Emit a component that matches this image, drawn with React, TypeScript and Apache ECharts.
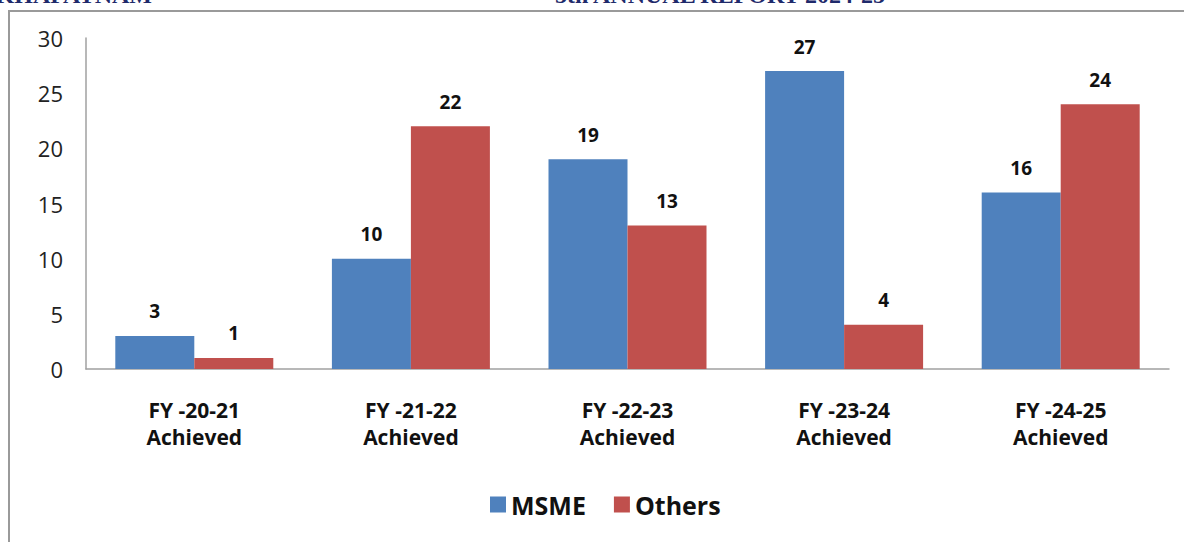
import React, { useEffect, useRef } from "react";
import * as echarts from "echarts";

const categories = [
  "FY -20-21\nAchieved",
  "FY -21-22\nAchieved",
  "FY -22-23\nAchieved",
  "FY -23-24\nAchieved",
  "FY -24-25\nAchieved",
];
const msme = [3, 10, 19, 27, 16];
const others = [1, 22, 13, 4, 24];
const seriesNames = ["MSME", "Others"];
const headerLeft = "VISAKHAPATNAM";
const headerRight = "5th ANNUAL REPORT 2024-25";

export default function App() {
  const ref = useRef<HTMLDivElement>(null);
  useEffect(() => {
    if (!ref.current) return;
    const chart = echarts.init(ref.current, null, { renderer: "svg" });
    const font = "'Open Sans', 'Noto Sans', sans-serif";
    const labelStyle = {
      show: true,
      position: "top",
      distance: 15,
      fontSize: 19,
      fontWeight: "bold",
      color: "#111",
      fontFamily: font,
    };
    chart.setOption({
      animation: false,
      backgroundColor: "#ffffff",
      textStyle: { fontFamily: font },
      graphic: [
        {
          type: "line",
          shape: { x1: 8, y1: 11, x2: 1184, y2: 11 },
          style: { stroke: "#9a9a9a", lineWidth: 2 },
          z: 10,
        },
        {
          type: "line",
          shape: { x1: 9, y1: 10, x2: 9, y2: 542 },
          style: { stroke: "#9a9a9a", lineWidth: 2 },
          z: 10,
        },
        {
          type: "text",
          x: 152,
          y: 7,
          style: {
            text: headerLeft,
            fill: "#1f2a6b",
            font: "bold 24px 'Liberation Serif', serif",
            align: "right",
            verticalAlign: "bottom",
          },
        },
        {
          type: "text",
          x: 555,
          y: 7,
          style: {
            text: headerRight,
            fill: "#1f2a6b",
            font: "bold 24px 'Liberation Serif', serif",
            align: "left",
            verticalAlign: "bottom",
          },
        },
      ],
      grid: { left: 86, right: 15, top: 38, bottom: 173, containLabel: false },
      legend: {
        data: seriesNames,
        left: 485,
        top: 487,
        itemWidth: 16,
        itemHeight: 16,
        itemGap: 28,
        icon: "rect",
        textStyle: { fontSize: 25, fontWeight: "bold", color: "#111", fontFamily: font },
      },
      xAxis: {
        type: "category",
        data: categories,
        axisLine: { show: true, lineStyle: { color: "#a0a0a0", width: 1.5 } },
        axisTick: { show: false },
        axisLabel: {
          fontSize: 21,
          fontWeight: "bold",
          color: "#111",
          lineHeight: 27,
          margin: 27,
          fontFamily: font,
        },
      },
      yAxis: {
        type: "value",
        min: 0,
        max: 30,
        interval: 5,
        axisLine: { show: true, lineStyle: { color: "#a0a0a0", width: 1.5 } },
        axisTick: { show: false },
        splitLine: { show: false },
        axisLabel: { fontSize: 22, color: "#222", margin: 23, fontFamily: font },
      },
      series: [
        {
          name: seriesNames[0],
          type: "bar",
          data: msme,
          barWidth: 79,
          barGap: "0%",
          itemStyle: { color: "#4f81bd" },
          label: labelStyle,
        },
        {
          name: seriesNames[1],
          type: "bar",
          data: others,
          barWidth: 79,
          barGap: "0%",
          itemStyle: { color: "#c0504d" },
          label: labelStyle,
        },
      ],
    });
    return () => chart.dispose();
  }, []);
  return (
    <div
      ref={ref}
      style={{ position: "absolute", left: 0, top: 0, width: 1184, height: 542, background: "#fff" }}
    />
  );
}
